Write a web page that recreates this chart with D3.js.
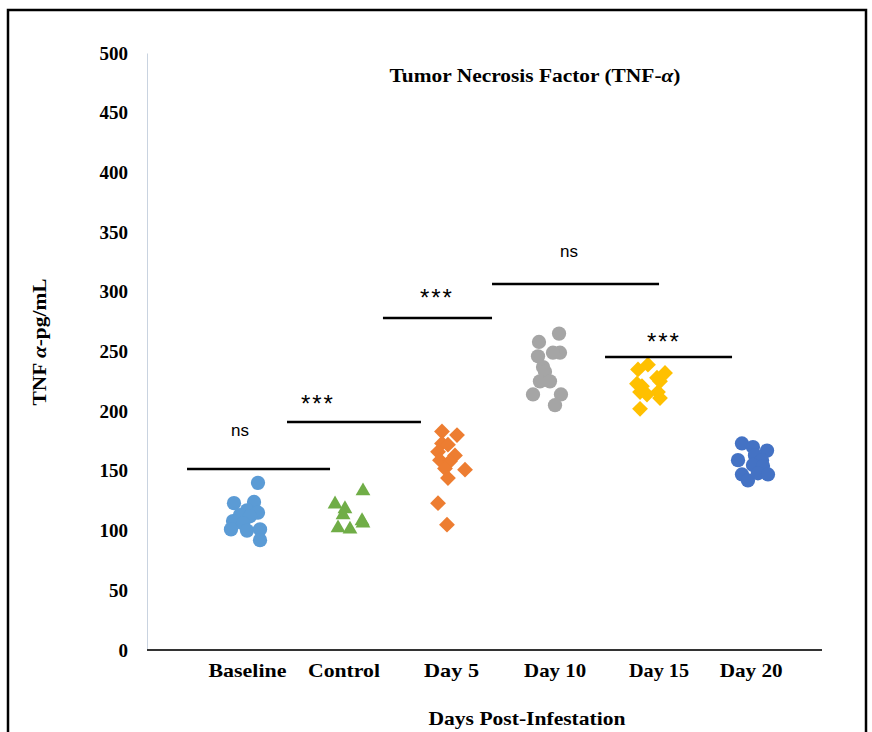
<!DOCTYPE html>
<html>
<head>
<meta charset="utf-8">
<script src="https://cdn.jsdelivr.net/npm/d3@7"></script>
<style>
  body { margin: 0; background: #fff; }
  text { font-family: "Liberation Serif", "Times New Roman", serif; }
</style>
</head>
<body>
<svg id="chart" width="872" height="732"></svg>
<script>
// categories and their label position on the x axis (axis units 0..7)
var categories = ["Baseline", "Control", "Day 5", "Day 10", "Day 15", "Day 20"];
var labelX = [1.042, 2.043, 3.158, 4.232, 5.310, 6.265];
var labelW = [78, 72, 55, 62, 60, 63];
var colors = ["#5b9bd5", "#70ad47", "#ed7d31", "#a5a5a5", "#ffc000", "#4472c4"];
var shapes = ["circle", "triangle", "diamond", "circle", "diamond", "circle"];

// series: x (axis units) and TNF value (pg/mL)
var baselineX = [1.151, 0.902, 1.110, 1.037, 1.151, 0.964, 1.068, 0.892, 0.996, 0.871, 1.037, 1.172, 1.172];
var baselineY = [140, 123, 124, 117, 115, 113, 112, 108, 106, 101, 100, 101, 92];
var controlX = [2.240, 1.950, 2.053, 2.033, 2.230, 1.981, 2.105, 2.240];
var controlY = [134, 123, 119, 114, 109, 103, 102, 107];
var day5X = [3.059, 3.215, 3.059, 3.121, 3.018, 3.194, 3.038, 3.142, 3.298, 3.090, 3.121, 3.018, 3.111];
var day5Y = [183, 180, 173, 172, 166, 163, 159, 158, 151, 152, 144, 123, 105];
var day10X = [4.065, 4.273, 4.055, 4.283, 4.210, 4.107, 4.127, 4.075, 4.179, 4.003, 4.293, 4.231];
var day10Y = [258, 265, 246, 249, 249, 237, 233, 225, 225, 214, 214, 205];
var day15X = [5.195, 5.092, 5.372, 5.289, 5.081, 5.320, 5.133, 5.113, 5.185, 5.299, 5.320, 5.113];
var day15Y = [239, 235, 232, 228, 223, 225, 221, 216, 214, 216, 211, 202];
var day20X = [6.170, 6.284, 6.430, 6.129, 6.305, 6.378, 6.284, 6.388, 6.170, 6.232, 6.336, 6.440];
var day20Y = [173, 170, 167, 159, 163, 159, 155, 154, 147, 142, 148, 147];

// significance brackets
var sigX1 = [0.415, 1.452, 2.447, 3.578, 4.750];
var sigX2 = [1.898, 2.841, 3.578, 5.310, 6.067];
var sigY = [151.6, 191, 278, 306.5, 245.4];
var sigLabel = ["ns", "***", "***", "ns", "***"];
var sigLabelX = [0.964, 1.773, 3.007, 4.376, 5.361];
var sigLabelY = [179, 199, 288, 329, 251];

var yTicks = [0, 50, 100, 150, 200, 250, 300, 350, 400, 450, 500];

var seriesX = [baselineX, controlX, day5X, day10X, day15X, day20X];
var seriesY = [baselineY, controlY, day5Y, day10Y, day15Y, day20Y];

var svg = d3.select("#chart");

var x = d3.scaleLinear().domain([0, 7]).range([147, 822]);
var y = d3.scaleLinear().domain([0, 500]).range([650, 53]);

// outer frame
svg.append("rect")
    .attr("x", 8).attr("y", 10)
    .attr("width", 858).attr("height", 740)
    .attr("fill", "none")
    .attr("stroke", "#000")
    .attr("stroke-width", 2.5);

// y axis
var yAxis = svg.append("g")
    .attr("transform", "translate(147,0)")
    .call(d3.axisLeft(y).tickValues(yTicks).tickSize(0).tickPadding(19));
yAxis.select(".domain").attr("stroke", "#c9d3e0").attr("stroke-width", 1);
yAxis.selectAll("text")
    .attr("font-family", "Liberation Serif")
    .attr("font-weight", "bold")
    .attr("font-size", "19px")
    .attr("fill", "#000");

// x axis line
svg.append("line")
    .attr("x1", x(0)).attr("x2", x(7))
    .attr("y1", y(0)).attr("y2", y(0))
    .attr("stroke", "#333")
    .attr("stroke-width", 2);

// category labels
svg.selectAll(".catLabel")
    .data(categories)
    .enter()
    .append("text")
    .attr("class", "catLabel")
    .attr("x", function (d, i) { return x(labelX[i]); })
    .attr("y", 677)
    .attr("text-anchor", "middle")
    .attr("font-weight", "bold")
    .attr("font-size", "19px")
    .attr("textLength", function (d, i) { return labelW[i]; })
    .attr("lengthAdjust", "spacingAndGlyphs")
    .text(function (d) { return d; });

// points
var sym = {
    circle: d3.symbol().type(d3.symbolCircle).size(160),
    triangle: d3.symbol().type(d3.symbolTriangle).size(95),
    diamond: d3.symbol().type(d3.symbolSquare).size(125)
};

seriesX.forEach(function (xs, s) {
    var pts = xs.map(function (v, i) { return { x: v, y: seriesY[s][i] }; });
    svg.append("g").attr("class", "series s" + s)
        .selectAll("path")
        .data(pts)
        .enter()
        .append("path")
        .attr("d", sym[shapes[s]]())
        .attr("transform", function (d) {
            var t = "translate(" + x(d.x) + "," + y(d.y) + ")";
            if (shapes[s] === "diamond") t += " rotate(45)";
            if (shapes[s] === "triangle") t += " translate(0,1)";
            return t;
        })
        .attr("fill", colors[s]);
});

// significance lines and labels
svg.selectAll(".sigLine")
    .data(sigY)
    .enter()
    .append("line")
    .attr("class", "sigLine")
    .attr("x1", function (d, i) { return x(sigX1[i]); })
    .attr("x2", function (d, i) { return x(sigX2[i]); })
    .attr("y1", function (d) { return y(d); })
    .attr("y2", function (d) { return y(d); })
    .attr("stroke", "#000")
    .attr("stroke-width", 2.5);

svg.selectAll(".sigText")
    .data(sigLabel)
    .enter()
    .append("text")
    .attr("class", "sigText")
    .attr("x", function (d, i) { return x(sigLabelX[i]); })
    .attr("y", function (d, i) { return y(sigLabelY[i]); })
    .attr("text-anchor", "middle")
    .style("font-family", "'Liberation Sans', sans-serif")
    .attr("font-size", function (d) { return d === "ns" ? "17px" : "24px"; })
    .attr("letter-spacing", function (d) { return d === "ns" ? "0px" : "2px"; })
    .text(function (d) { return d; });

// title
svg.append("text")
    .attr("x", 535).attr("y", 82)
    .attr("text-anchor", "middle")
    .attr("font-weight", "bold")
    .attr("font-size", "18px")
    .attr("textLength", 291)
    .attr("lengthAdjust", "spacingAndGlyphs")
    .text("Tumor Necrosis Factor (TNF-")
    .append("tspan").attr("font-style", "italic").text("α")
    .select(function () { return this.parentNode; })
    .append("tspan").text(")");

// y title
svg.append("text")
    .attr("transform", "translate(46,342) rotate(-90)")
    .attr("text-anchor", "middle")
    .attr("font-weight", "bold")
    .attr("font-size", "19px")
    .attr("textLength", 127)
    .attr("lengthAdjust", "spacingAndGlyphs")
    .text("TNF ")
    .append("tspan").attr("font-style", "italic").text("α")
    .select(function () { return this.parentNode; })
    .append("tspan").text("-pg/mL");

// x title
svg.append("text")
    .attr("x", 527).attr("y", 725)
    .attr("text-anchor", "middle")
    .attr("font-weight", "bold")
    .attr("font-size", "19px")
    .attr("textLength", 197)
    .attr("lengthAdjust", "spacingAndGlyphs")
    .text("Days Post-Infestation");
</script>
</body>
</html>
